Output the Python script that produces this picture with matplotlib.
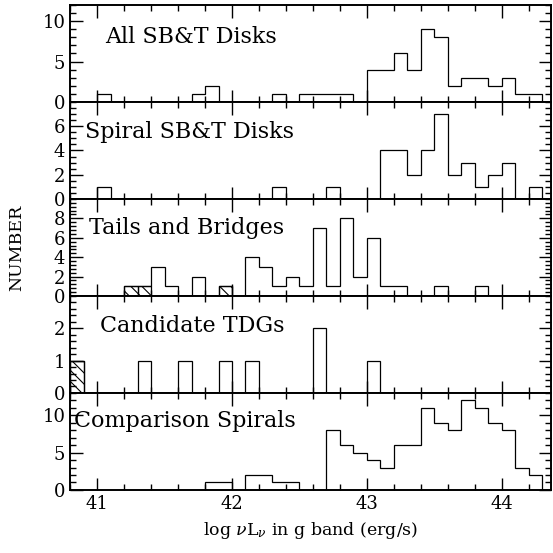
import numpy as np
import matplotlib.pyplot as plt
from matplotlib.ticker import MultipleLocator

plt.rcParams['font.family'] = 'DejaVu Serif'
plt.rcParams['mathtext.fontset'] = 'dejavuserif'
plt.rcParams['hatch.linewidth'] = 0.8

# bins of 0.1 dex from 40.8 to 44.4
bin_lo = 40.8
bin_w = 0.1
nbins = 36
edges = np.round(bin_lo + bin_w * np.arange(nbins + 1), 2)

# counts per bin (first bin starts at 40.8)
all_disks = [0, 0, 1, 0, 0, 0, 0, 0, 0, 1,
             2, 0, 0, 0, 0, 1, 0, 1, 1, 1,
             1, 0, 4, 4, 6, 4, 9, 8, 2, 3,
             3, 2, 3, 1, 1, 0]
spiral_disks = [0, 0, 1, 0, 0, 0, 0, 0, 0, 0,
                0, 0, 0, 0, 0, 1, 0, 0, 0, 1,
                0, 0, 0, 4, 4, 2, 4, 7, 2, 3,
                1, 2, 3, 0, 1, 0]
tails = [0, 0, 0, 0, 1, 1, 3, 1, 0, 2,
         0, 1, 0, 4, 3, 1, 2, 1, 7, 1,
         8, 2, 6, 1, 1, 0, 0, 1, 0, 0,
         1, 0, 0, 0, 0, 0]
tails_hatched = [0, 0, 0, 0, 1, 1, 0, 0, 0, 0,
                 0, 1, 0, 0, 0, 0, 0, 0, 0, 0,
                 0, 0, 0, 0, 0, 0, 0, 0, 0, 0,
                 0, 0, 0, 0, 0, 0]
tdgs = [1, 0, 0, 0, 0, 1, 0, 0, 1, 0,
        0, 1, 0, 1, 0, 0, 0, 0, 2, 0,
        0, 0, 1, 0, 0, 0, 0, 0, 0, 0,
        0, 0, 0, 0, 0, 0]
tdgs_hatched = [1, 0, 0, 0, 0, 0, 0, 0, 0, 0,
                0, 0, 0, 0, 0, 0, 0, 0, 0, 0,
                0, 0, 0, 0, 0, 0, 0, 0, 0, 0,
                0, 0, 0, 0, 0, 0]
comparison = [0, 0, 0, 0, 0, 0, 0, 0, 0, 0,
              1, 1, 0, 2, 2, 1, 1, 0, 0, 8,
              6, 5, 4, 3, 6, 6, 11, 9, 8, 12,
              11, 9, 8, 3, 2, 0]

names = ['All SB&T Disks', 'Spiral SB&T Disks', 'Tails and Bridges',
         'Candidate TDGs', 'Comparison Spirals']
series = [all_disks, spiral_disks, tails, tdgs, comparison]
hatched = [None, None, tails_hatched, tdgs_hatched, None]
ytops = [12, 8, 10, 3, 13]
yticks = [[0, 5, 10], [0, 2, 4, 6], [0, 2, 4, 6, 8], [0, 1, 2], [0, 5, 10]]
yminor = [1, 0.5, 0.4, 0.2, 1]
label_pos = [(0.073, 0.67), (0.031, 0.69), (0.039, 0.70),
             (0.062, 0.69), (0.008, 0.714)]

fig, axes = plt.subplots(5, 1, sharex=True, figsize=(5.53, 5.53), dpi=100)
fig.subplots_adjust(left=0.127, right=0.996, top=0.991, bottom=0.114, hspace=0)

for i, ax in enumerate(axes):
    ax.stairs(series[i], edges, color='black', linewidth=0.9, baseline=0)
    if hatched[i] is not None:
        ax.bar(edges[:-1], hatched[i], width=bin_w, align='edge', fill=False,
               hatch='\\\\\\', edgecolor='black', linewidth=0.9)
    ax.set_ylim(0, ytops[i])
    ax.set_xlim(40.8, 44.365)
    ax.set_yticks(yticks[i])
    ax.yaxis.set_minor_locator(MultipleLocator(yminor[i]))
    ax.xaxis.set_major_locator(MultipleLocator(1))
    ax.xaxis.set_minor_locator(MultipleLocator(0.2))
    ax.tick_params(which='both', direction='in', top=True, right=True,
                   width=1, labelsize=13)
    ax.tick_params(which='major', length=9)
    ax.tick_params(which='minor', length=4.5)
    for s in ax.spines.values():
        s.set_linewidth(1.4)
    ax.text(label_pos[i][0], label_pos[i][1], names[i], transform=ax.transAxes,
            fontsize=16, va='center', ha='left')

axes[-1].set_xlabel(r'log $\nu\mathrm{L}_\nu$ in g band (erg/s)', fontsize=12.5,
                    labelpad=5)
fig.text(0.03, 0.552, 'NUMBER', rotation=90, va='center', ha='center', fontsize=12.5)

fig.savefig('out.png', dpi=100)
